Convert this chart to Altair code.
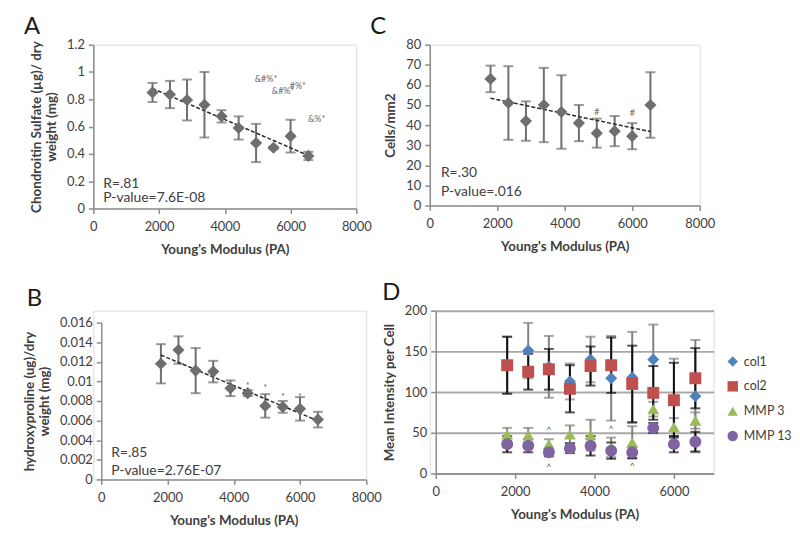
import altair as alt
import pandas as pd

# ---------------- data ----------------
modulus = [1800, 2330, 2850, 3380, 3900, 4420, 4950, 5480, 6000, 6540]

# A: chondroitin sulfate
cs_mean = [0.85, 0.835, 0.795, 0.76, 0.675, 0.59, 0.48, 0.445, 0.53, 0.385]
cs_sd = [0.07, 0.10, 0.15, 0.24, 0.045, 0.085, 0.14, 0.01, 0.12, 0.03]
cs_ann_x = [5250, 6220, 5770, 6790]
cs_ann_y = [0.945, 0.895, 0.858, 0.655]
cs_ann_t = ["&#%*", "#%*", "&#%*", "&%*"]
cs_stats = ["R=.81", "P-value=7.6E-08"]
cs_stats_y = [0.18, 0.08]

# C: cells / mm2
cell_mean = [63, 51, 42, 50, 46.5, 41, 36, 37, 34.5, 50]
cell_sd = [6.6, 18.3, 9.8, 18.5, 18.3, 9.0, 7.2, 7.5, 6.5, 16.3]
cell_ann_x = [4950, 6000]
cell_ann_y = [46.5, 46.2]
cell_ann_t = ["#", "#"]
cell_stats = ["R=.30", "P-value=.016"]
cell_stats_y = [16.3, 6.9]

# B: hydroxyproline
hp_mean = [0.0118, 0.0132, 0.0111, 0.0110, 0.0093, 0.0088, 0.0075, 0.0074, 0.0072, 0.0061]
hp_sd = [0.0020, 0.0014, 0.0023, 0.0011, 0.0008, 0.0003, 0.0012, 0.0006, 0.0012, 0.0008]
hp_ann_x = [4420, 4950, 5480, 6000]
hp_ann_y = [0.0095, 0.0093, 0.0084, 0.0084]
hp_ann_t = ["*", "*", "*", "*"]
hp_stats = ["R=.85", "P-value=2.76E-07"]
hp_stats_y = [0.00273, 0.00081]

# D: mean intensity per cell
series_names = ["col1", "col2", "MMP 3", "MMP 13"]
series_colors = ["#4F81BD", "#C0504D", "#9BBB59", "#8064A2"]
series_shapes = ["diamond", "square", "triangle-up", "circle"]
series_err_colors = ["#808080", "#111111", "#808080", "#111111"]
col1_mean = [133, 151, 131, 113, 140, 117, 118, 140, 90, 95]
col1_sd = [35, 34, 38, 22, 28, 52, 56, 43, 51, 69]
col2_mean = [133, 125, 128, 104, 132, 133, 110, 99, 90, 117]
col2_sd = [35, 22, 25, 29, 24, 34, 47, 33, 46, 37]
mmp3_mean = [48, 47, 36, 48, 47, 32, 38, 79, 57, 65]
mmp3_sd = [8, 9, 6, 11, 19, 12, 20, 9, 11, 10]
mmp13_mean = [36, 34, 26, 31, 34, 28, 26, 56, 36, 39]
mmp13_sd = [10, 8, 5, 6, 12, 10, 7, 6, 10, 12]
d_ann_x = [2850, 2850, 4420, 4950]
d_ann_y = [53, 8, 54, 9]
d_ann_t = ["^", "^", "^", "^"]

# ---------------- styling ----------------
FONT = "Lato"
TXT = "#404040"
AX = "#8c8c8c"
MARK = "#6e6e6e"
XTITLE = "Young's Modulus (PA)"
TITLE_SIZE = 13.5


def x_axis(values, offset=0):
    return alt.Axis(values=values, format="d", title=XTITLE, titleFontSize=TITLE_SIZE,
                    titleFontWeight="bold", titleColor=TXT, labelFontSize=13,
                    labelColor=TXT, domainColor=AX, domainWidth=1.5, tickColor=AX,
                    tickSize=5, tickWidth=1.5, grid=False, labelPadding=7,
                    titlePadding=9, labelFlush=False)


def y_axis(values, fmt, title, offset=0, grid=False):
    return alt.Axis(values=values, format=fmt, title=title, titleFontSize=TITLE_SIZE,
                    titleFontWeight="bold", titleColor=TXT, labelFontSize=13,
                    labelColor=TXT, domainColor=AX, domainWidth=1.5, tickColor=AX,
                    tickSize=5, tickWidth=1.5, grid=grid, gridColor="#a9a9a9",
                    gridWidth=2, labelPadding=4, titlePadding=8, offset=offset,
                    labelFlush=False)


def single_panel(mean, sd, ydom, yvals, yfmt, ytitle, ann_x, ann_y, ann_t,
                 stats, stats_y, letter, width, height, letter_dx,
                 xrange=None, yrange=None, yoffset=0, stat_x=300):
    df = pd.DataFrame({"x": modulus, "y": mean,
                       "lo": [m - s for m, s in zip(mean, sd)],
                       "hi": [m + s for m, s in zip(mean, sd)]})
    ann = pd.DataFrame({"x": ann_x, "y": ann_y, "t": ann_t})
    st = pd.DataFrame({"x": [stat_x] * len(stats), "y": stats_y, "t": stats})

    xs = dict(domain=[0, 8000])
    if xrange is not None:
        xs["range"] = xrange
    ys = dict(domain=ydom)
    if yrange is not None:
        ys["range"] = yrange
    xscale = alt.Scale(**xs)
    yscale = alt.Scale(**ys)
    xa = x_axis([0, 2000, 4000, 6000, 8000])
    ya = y_axis(yvals, yfmt, ytitle, offset=yoffset)

    def X(f):
        return alt.X(f"{f}:Q", scale=xscale, axis=xa)

    def Y(f):
        return alt.Y(f"{f}:Q", scale=yscale, axis=ya)

    base = alt.Chart(df)
    rules = base.mark_rule(color=MARK, strokeWidth=2).encode(
        x=X("x"), y=Y("lo"), y2=alt.Y2("hi"))
    cap_lo = base.mark_tick(color=MARK, orient="horizontal", size=10, thickness=2).encode(
        x=X("x"), y=Y("lo"))
    cap_hi = base.mark_tick(color=MARK, orient="horizontal", size=10, thickness=2).encode(
        x=X("x"), y=Y("hi"))
    trend = base.transform_regression("x", "y").mark_line(
        color="#2a2a2a", strokeWidth=1.5, strokeDash=[4, 2]).encode(x=X("x"), y=Y("y"))
    pts = base.mark_point(shape="diamond", filled=True, size=150, color=MARK,
                          opacity=1).encode(x=X("x"), y=Y("y"))
    ann_l = alt.Chart(ann).mark_text(fontSize=9, color="#6a6a6a", font=FONT).encode(
        x=X("x"), y=Y("y"), text="t:N")
    st_l = alt.Chart(st).mark_text(fontSize=14, color=TXT, align="left",
                                   font=FONT).encode(x=X("x"), y=Y("y"), text="t:N")
    return alt.layer(rules, cap_lo, cap_hi, trend, pts, ann_l, st_l).properties(
        width=width, height=height,
        title=alt.TitleParams(text=letter, anchor="start", frame="group",
                              fontSize=24, fontWeight="normal", color="#1a1a1a",
                              font=FONT, dx=letter_dx, offset=0))


panel_a = single_panel(cs_mean, cs_sd, [0, 1.2], [0, 0.2, 0.4, 0.6, 0.8, 1.0, 1.2], ".1~f",
                       ["Chondroitin Sulfate (µg)/ dry", "weight (mg)"],
                       cs_ann_x, cs_ann_y, cs_ann_t, cs_stats, cs_stats_y, "A",
                       265, 165, -70)
panel_c = single_panel(cell_mean, cell_sd, [0, 80], [0, 10, 20, 30, 40, 50, 60, 70, 80], "d",
                       "Cells/mm2", cell_ann_x, cell_ann_y, cell_ann_t, cell_stats,
                       cell_stats_y, "C", 272, 162, -60, stat_x=330)
panel_b = single_panel(hp_mean, hp_sd, [0, 0.016],
                       [0, 0.002, 0.004, 0.006, 0.008, 0.01, 0.012, 0.014, 0.016], ".3~f",
                       ["hydroxyproline (ug)/dry", "weight (mg)"],
                       hp_ann_x, hp_ann_y, hp_ann_t, hp_stats, hp_stats_y, "B",
                       275, 170, -67, xrange=[8, 275], yrange=[170, 12], yoffset=-8)

# ---- D ----
rows = []
for name, color, ecol, mean, sd in zip(
        series_names, series_colors, series_err_colors,
        [col1_mean, col2_mean, mmp3_mean, mmp13_mean],
        [col1_sd, col2_sd, mmp3_sd, mmp13_sd]):
    for xv, m, s in zip(modulus, mean, sd):
        rows.append({"series": name, "ecol": ecol, "x": xv, "y": m, "lo": m - s, "hi": m + s})
ddf = pd.DataFrame(rows)
dann = pd.DataFrame({"x": d_ann_x, "y": d_ann_y, "t": d_ann_t})

dx_scale = alt.Scale(domain=[0, 7000], range=[6, 286])
dy_scale = alt.Scale(domain=[0, 200])
dxa = x_axis([0, 2000, 4000, 6000])
dya = y_axis([0, 50, 100, 150, 200], "d", "Mean Intensity per Cell", offset=-6, grid=True)


def DX(f):
    return alt.X(f"{f}:Q", scale=dx_scale, axis=dxa)


def DY(f):
    return alt.Y(f"{f}:Q", scale=dy_scale, axis=dya)


err_layers = []
for ecol in ["#808080", "#111111"]:
    sub = alt.Chart(ddf).transform_filter(alt.datum.ecol == ecol)
    err_layers.append(sub.mark_rule(color=ecol, strokeWidth=2).encode(
        x=DX("x"), y=DY("lo"), y2=alt.Y2("hi")))
    err_layers.append(sub.mark_tick(color=ecol, orient="horizontal", size=10, thickness=2).encode(
        x=DX("x"), y=DY("lo")))
    err_layers.append(sub.mark_tick(color=ecol, orient="horizontal", size=10, thickness=2).encode(
        x=DX("x"), y=DY("hi")))

legend = alt.Legend(title=None, orient="none", legendX=638, legendY=313, padding=0,
                    labelFontSize=12.5, labelColor=TXT, labelFont=FONT, labelOffset=5,
                    symbolSize=110, rowPadding=12, symbolStrokeWidth=0)
d_pts = alt.Chart(ddf).mark_point(filled=True, opacity=1, size=145).encode(
    x=DX("x"), y=DY("y"),
    color=alt.Color("series:N", scale=alt.Scale(domain=series_names, range=series_colors),
                    legend=legend),
    shape=alt.Shape("series:N", scale=alt.Scale(domain=series_names, range=series_shapes),
                    legend=legend),
    order=alt.Order("order:Q"),
).transform_calculate(order="indexof(['col1','col2','MMP 3','MMP 13'], datum.series)")
d_ann = alt.Chart(dann).mark_text(fontSize=9, color="#555555", font=FONT).encode(
    x=DX("x"), y=DY("y"), text="t:N")

panel_d = alt.layer(*err_layers, d_pts, d_ann).properties(
    width=286, height=164,
    title=alt.TitleParams(text="D", anchor="start", frame="group", fontSize=24,
                          fontWeight="normal", color="#1a1a1a", font=FONT, dx=-48, offset=0))

chart = alt.concat(panel_a, panel_c, panel_b, panel_d, columns=2,
                   spacing={"row": 103, "column": 64}, bounds="flush").properties(
    padding={"left": 13, "top": 4, "right": 0, "bottom": 3}
).configure_view(stroke=None).configure(font=FONT, background="white")

chart.save("out.html", embed_options={"renderer": "svg", "actions": False})
